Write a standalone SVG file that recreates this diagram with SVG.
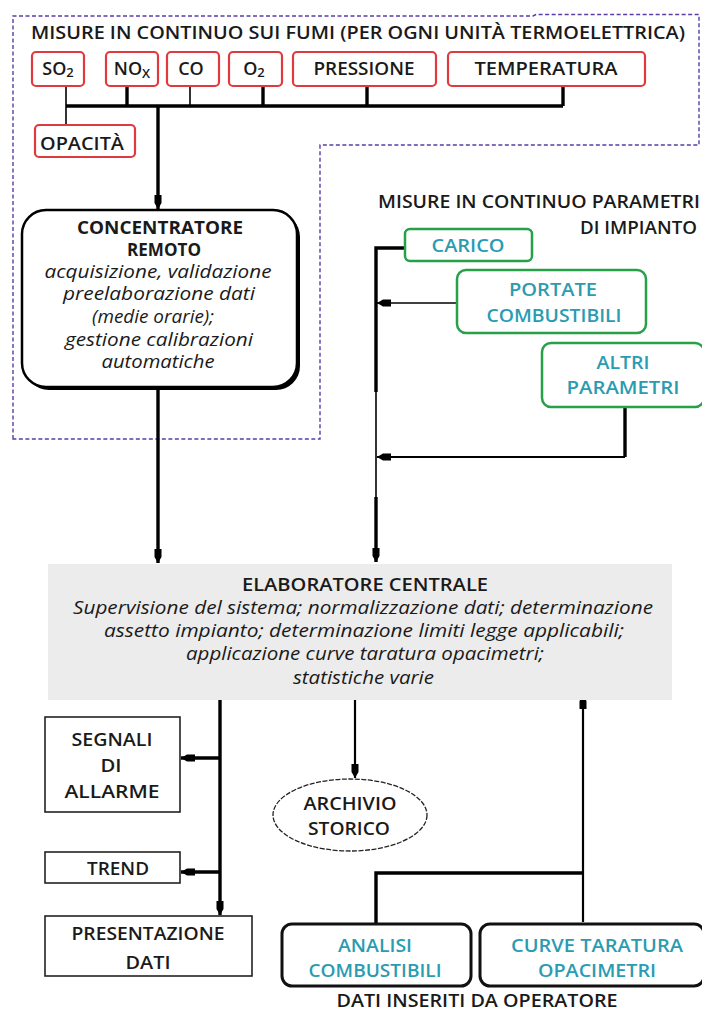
<svg xmlns="http://www.w3.org/2000/svg" width="702" height="1013" viewBox="0 0 702 1013">
<style>
text{font-family:"Open Sans","Noto Sans","Liberation Sans",sans-serif;fill:#1a1a1a;font-size:18px;font-weight:600}
.it{font-style:italic;font-weight:400;font-size:17.5px}
.b{font-weight:700;font-size:18px}
.teal{fill:#2a9cb2}
.mid{text-anchor:middle}
.red{fill:#fff;stroke:#e03a3e;stroke-width:2.2}
.grn{fill:#fff;stroke:#27a048;stroke-width:2.5}
.blk{fill:#fff;stroke:#111;stroke-width:3}
.out{fill:#fff;stroke:#222;stroke-width:1.6}
.c{fill:none;stroke:#000}
.tk{stroke-width:3.4}
.tn{stroke-width:1.6}
.md{stroke-width:2.2}
</style>
<defs>
<marker id="ah" viewBox="0 0 14 10" refX="14" refY="5" markerWidth="14" markerHeight="10" markerUnits="userSpaceOnUse" orient="auto">
<path d="M0,1.5 H8 L14,5 L8,8.5 H0 Z" fill="#000"/>
</marker>
</defs>

<path d="M13,439 V16 H533 L536,14.5 H699 V145 H320 V439 Z" fill="none" stroke="#5a3ea5" stroke-width="1.4" stroke-dasharray="4,2.5"/>
<text x="31" y="39" font-size="17.5" textLength="654" lengthAdjust="spacingAndGlyphs">MISURE IN CONTINUO SUI FUMI  (PER OGNI UNITÀ TERMOELETTRICA)</text>

<g id="connectors">
<path class="c tn" d="M66,86 V125"/>
<path class="c tk" d="M127,86 V106"/>
<path class="c tn" d="M190,86 V106"/>
<path class="c tk" d="M263,86 V106"/>
<path class="c tk" d="M367,86 V106"/>
<path class="c tk" d="M563,86 V106"/>
<path class="c tk" d="M66,106 H563"/>
<path class="c tk" d="M158,106 V209" marker-end="url(#ah)"/>
<path class="c tk" d="M158,390 V563" marker-end="url(#ah)"/>
<path class="c tk" d="M405,248 H376 V392"/>
<path class="c tn" d="M376,392 V497"/>
<path class="c tk" d="M376,497 V562" marker-end="url(#ah)"/>
<path class="c tn" d="M457,303 H377" marker-end="url(#ah)"/>
<path class="c tk" d="M625,407 V457"/>
<path class="c md" d="M625,457 H377" marker-end="url(#ah)"/>
<path class="c tk" d="M220,695 V915" marker-end="url(#ah)"/>
<path class="c tk" d="M220,758 H181" marker-end="url(#ah)"/>
<path class="c tk" d="M220,872 H181" marker-end="url(#ah)"/>
<path class="c md" d="M355,695 V778" marker-end="url(#ah)"/>
<path class="c tk" d="M376,923 V873 H583"/>
<path class="c md" d="M583,922 V695" marker-end="url(#ah)"/>
</g>

<g id="so2"><rect class="red" x="32" y="52" width="52" height="34" rx="4"/><text class="mid" x="58" y="75">SO<tspan font-size="13" dy="2">2</tspan></text></g>
<g id="nox"><rect class="red" x="106" y="52" width="52" height="34" rx="4"/><text class="mid" x="132" y="75">NO<tspan font-size="13" dy="3">X</tspan></text></g>
<g id="co"><rect class="red" x="167" y="52" width="52" height="34" rx="4"/><text class="mid" x="191" y="75">CO</text></g>
<g id="o2"><rect class="red" x="229" y="52" width="53" height="34" rx="4"/><text class="mid" x="254" y="75">O<tspan font-size="13" dy="2">2</tspan></text></g>
<g id="pressione"><rect class="red" x="293" y="52" width="143" height="34" rx="4"/><text class="mid" x="364" y="75" textLength="101" lengthAdjust="spacingAndGlyphs">PRESSIONE</text></g>
<g id="temperatura"><rect class="red" x="448" y="52" width="197" height="34" rx="4"/><text class="mid" x="546" y="75" textLength="143" lengthAdjust="spacingAndGlyphs">TEMPERATURA</text></g>
<g id="opacita"><rect class="red" x="35" y="125" width="100" height="32" rx="4"/><text class="mid" x="82" y="150" textLength="84" lengthAdjust="spacingAndGlyphs">OPACITÀ</text></g>

<g id="concentratore">
<rect x="25" y="213" width="275" height="177" rx="24" fill="#000"/>
<rect x="22" y="210" width="275" height="177" rx="24" fill="#fff" stroke="#000" stroke-width="2.5"/>
<text class="b mid" x="160" y="234" textLength="166" lengthAdjust="spacingAndGlyphs">CONCENTRATORE</text>
<text class="b mid" x="164" y="256" textLength="74" lengthAdjust="spacingAndGlyphs">REMOTO</text>
<text class="it mid" x="158" y="278" textLength="227" lengthAdjust="spacingAndGlyphs">acquisizione, validazione</text>
<text class="it mid" x="159" y="300" textLength="192" lengthAdjust="spacingAndGlyphs">preelaborazione dati</text>
<text class="it mid" x="153" y="323" textLength="122" lengthAdjust="spacingAndGlyphs">(medie orarie);</text>
<text class="it mid" x="159" y="346" textLength="188" lengthAdjust="spacingAndGlyphs">gestione calibrazioni</text>
<text class="it mid" x="158" y="368" textLength="113" lengthAdjust="spacingAndGlyphs">automatiche</text>
</g>

<text x="700" y="208" text-anchor="end" textLength="322" lengthAdjust="spacingAndGlyphs">MISURE IN CONTINUO PARAMETRI</text>
<text x="697" y="234" text-anchor="end" textLength="117" lengthAdjust="spacingAndGlyphs">DI IMPIANTO</text>

<g id="carico"><rect class="grn" x="405" y="229" width="127" height="32" rx="5"/><text class="mid teal" x="468" y="252" textLength="73" lengthAdjust="spacingAndGlyphs">CARICO</text></g>
<g id="portate"><rect class="grn" x="457" y="270" width="189" height="63" rx="9"/><text class="mid teal" x="553" y="296" textLength="88" lengthAdjust="spacingAndGlyphs">PORTATE</text><text class="mid teal" x="554" y="322" textLength="135" lengthAdjust="spacingAndGlyphs">COMBUSTIBILI</text></g>
<g id="altri"><rect class="grn" x="542" y="343" width="162" height="64" rx="9"/><text class="mid teal" x="623" y="369" textLength="53" lengthAdjust="spacingAndGlyphs">ALTRI</text><text class="mid teal" x="623" y="394" textLength="113" lengthAdjust="spacingAndGlyphs">PARAMETRI</text></g>

<g id="elaboratore">
<rect x="48" y="564" width="624" height="136" fill="#ececec"/>
<text class="mid" x="365" y="591" textLength="246" lengthAdjust="spacingAndGlyphs">ELABORATORE  CENTRALE</text>
<text class="it" x="73" y="614" textLength="580" lengthAdjust="spacingAndGlyphs">Supervisione del sistema; normalizzazione dati; determinazione</text>
<text class="it" x="104" y="637" textLength="520" lengthAdjust="spacingAndGlyphs">assetto impianto; determinazione limiti legge applicabili;</text>
<text class="it" x="186" y="660" textLength="358" lengthAdjust="spacingAndGlyphs">applicazione curve taratura opacimetri;</text>
<text class="it" x="293" y="684" textLength="141" lengthAdjust="spacingAndGlyphs">statistiche varie</text>
</g>

<g id="segnali"><rect class="out" x="45" y="717" width="135" height="95"/><text class="mid" x="112" y="746" textLength="81" lengthAdjust="spacingAndGlyphs">SEGNALI</text><text class="mid" x="111" y="772" textLength="21" lengthAdjust="spacingAndGlyphs">DI</text><text class="mid" x="112" y="798" textLength="95" lengthAdjust="spacingAndGlyphs">ALLARME</text></g>
<g id="trend"><rect class="out" x="45" y="852" width="135" height="31"/><text class="mid" x="118" y="875" textLength="62" lengthAdjust="spacingAndGlyphs">TREND</text></g>
<g id="presentazione"><rect class="out" x="45" y="916" width="207" height="60"/><text class="mid" x="148" y="940" textLength="153" lengthAdjust="spacingAndGlyphs">PRESENTAZIONE</text><text class="mid" x="148" y="969" textLength="45" lengthAdjust="spacingAndGlyphs">DATI</text></g>
<g id="archivio"><ellipse cx="350" cy="815" rx="77" ry="36" fill="#fff" stroke="#222" stroke-width="1.3" stroke-dasharray="5,1.5"/><text class="mid" x="350" y="810" textLength="93" lengthAdjust="spacingAndGlyphs">ARCHIVIO</text><text class="mid" x="349" y="835" textLength="82" lengthAdjust="spacingAndGlyphs">STORICO</text></g>
<g id="analisi"><rect class="blk" x="282" y="924" width="189" height="62" rx="10"/><text class="mid teal" x="375" y="952" textLength="74" lengthAdjust="spacingAndGlyphs">ANALISI</text><text class="mid teal" x="375" y="977" textLength="133" lengthAdjust="spacingAndGlyphs">COMBUSTIBILI</text></g>
<g id="curve"><rect class="blk" x="480" y="924" width="224" height="62" rx="10"/><text class="mid teal" x="597" y="952" textLength="172" lengthAdjust="spacingAndGlyphs">CURVE TARATURA</text><text class="mid teal" x="597" y="977" textLength="118" lengthAdjust="spacingAndGlyphs">OPACIMETRI</text></g>
<text class="mid" x="477" y="1007" font-weight="400" font-size="17" textLength="281" lengthAdjust="spacingAndGlyphs">DATI INSERITI DA OPERATORE</text>
</svg>
